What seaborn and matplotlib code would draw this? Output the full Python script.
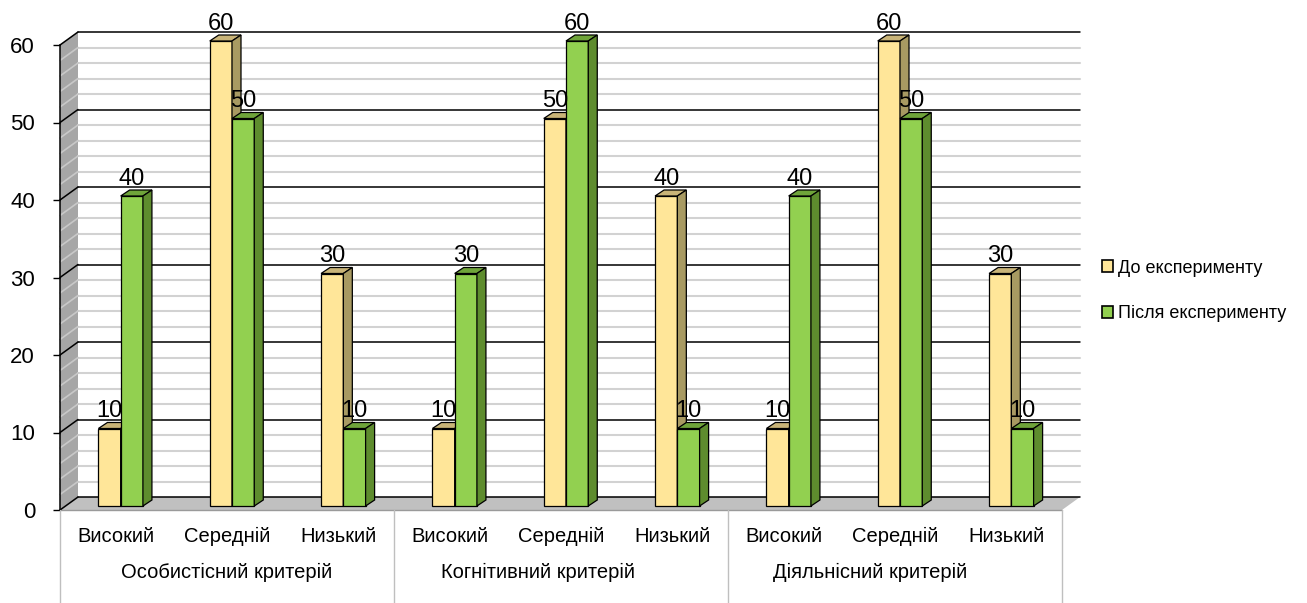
import numpy as np
import pandas as pd
import matplotlib
matplotlib.use('Agg')
import matplotlib.pyplot as plt
import matplotlib.transforms as mtransforms
from matplotlib.patches import Polygon, Patch
import seaborn as sns

# data
groups = ['Особистісний критерій', 'Когнітивний критерій', 'Діяльнісний критерій']
levels = ['Високий', 'Середній', 'Низький']
series = ['До експерименту', 'Після експерименту']
before = [10, 60, 30, 10, 50, 40, 10, 60, 30]
after = [40, 50, 10, 30, 60, 10, 40, 50, 10]

keys = [g + '|' + l for g in groups for l in levels]
df = pd.DataFrame({
    'key': keys * 2,
    'value': before + after,
    'series': [series[0]] * len(keys) + [series[1]] * len(keys),
})

yellow, green = '#FFE699', '#92D050'
side_cols = ['#A89A62', '#5E8C2E']
top_cols = ['#C9B478', '#6FA43A']

sns.set_style('white')
plt.rcParams['font.family'] = ['Liberation Sans', 'DejaVu Sans']
plt.rcParams['text.color'] = 'black'
plt.rcParams['xtick.color'] = 'black'
plt.rcParams['ytick.color'] = 'black'

W, H = 1307, 603
fig = plt.figure(figsize=(W / 100, H / 100), dpi=100)
fig.patch.set_facecolor('white')
ax_w, ax_h = 1002, 465
ax = fig.add_axes([60 / W, 93 / H, ax_w / W, ax_h / H])

sns.barplot(data=df, x='key', y='value', hue='series', order=keys, hue_order=series,
            palette=[yellow, green], saturation=1, width=0.4, gap=0, edgecolor='black',
            linewidth=0.9, errorbar=None, legend=False, ax=ax)
ax.set_xlim(-0.5, 8.5)
ax.set_ylim(0, 60)

# 3D-ish walls (depth offset in pixels)
wdx, wdy = 18 / ax_w, 13 / ax_h
side = Polygon([(0, 0), (0, 1), (wdx, 1 + wdy), (wdx, wdy)], closed=True,
               facecolor='#a6a6a6', edgecolor='none', transform=ax.transAxes,
               clip_on=False, zorder=0.3)
floor = Polygon([(0, 0), (wdx, wdy), (1 + wdx, wdy), (1, 0)], closed=True,
                facecolor='#c0c0c0', edgecolor='none', transform=ax.transAxes,
                clip_on=False, zorder=0.3)
ax.add_patch(side)
ax.add_patch(floor)
ax.plot([0, 1], [0, 0], color='#9a9a9a', lw=1, transform=ax.transAxes, clip_on=False, zorder=0.4)

for v in np.arange(0, 61, 2):
    yf = v / 60
    major = v % 10 == 0
    ax.plot([wdx, 1 + wdx], [yf + wdy, yf + wdy],
            color='black' if major else '#d2d2d2', lw=1.1 if major else 1.5,
            transform=ax.transAxes, clip_on=False, zorder=0.5 if major else 0.4)
    ax.plot([0, wdx], [yf, yf + wdy],
            color='black' if major else '#c8c8c8', lw=1.1 if major else 1.2,
            transform=ax.transAxes, clip_on=False, zorder=0.5 if major else 0.4)

# bars: shift front faces slightly and add top/side faces
px_x = ax_w / 9
px_y = ax_h / 60
shift = ax.transData + mtransforms.ScaledTranslation(5 / 100, 4 / 100, fig.dpi_scale_trans)
ddx, ddy = 9 / px_x, 6 / px_y
for si, cont in enumerate(ax.containers):
    for bar in cont:
        bar.set_transform(shift)
        bar.set_clip_on(False)
        z = 2 + si
        bar.set_zorder(z)
        x0, w, h = bar.get_x(), bar.get_width(), bar.get_height()
        top = Polygon([(x0, h), (x0 + w, h), (x0 + w + ddx, h + ddy), (x0 + ddx, h + ddy)],
                      closed=True, facecolor=top_cols[si], edgecolor='black', lw=0.9,
                      transform=shift, clip_on=False, zorder=z)
        sd = Polygon([(x0 + w, 0), (x0 + w, h), (x0 + w + ddx, h + ddy), (x0 + w + ddx, ddy)],
                     closed=True, facecolor=side_cols[si], edgecolor='black', lw=0.9,
                     transform=shift, clip_on=False, zorder=z)
        ax.add_patch(top)
        ax.add_patch(sd)
        ax.annotate(f'{h:.0f}', (x0 + w / 2, h), xycoords=shift, xytext=(0, 8),
                    textcoords='offset points', ha='center', va='baseline',
                    fontsize=17, zorder=6)

# axes styling
for s in ['top', 'right', 'bottom']:
    ax.spines[s].set_visible(False)
ax.spines['left'].set_color('black')
ax.spines['left'].set_linewidth(1.1)
ax.spines['left'].set_zorder(0.6)
ax.set_yticks(np.arange(0, 61, 10))
ax.tick_params(axis='y', left=True, length=5, width=1, color='black', pad=13, labelsize=16)
ax.set_xticks(range(9))
ax.set_xticklabels(levels * 3)
ax.tick_params(axis='x', length=0, pad=12, labelsize=14.5)
ax.set_xlabel('')
ax.set_ylabel('')
ax.patch.set_alpha(0)

# category separators and group labels
blend = mtransforms.blended_transform_factory(ax.transData, ax.transAxes)
for xs in [-0.5, 2.5, 5.5, 8.5]:
    ax.plot([xs, xs], [0, -93 / ax_h], color='#bfbfbf', lw=1, transform=blend, clip_on=False)
group_x = [1.0, 3.79, 6.78]
for gx, g in zip(group_x, groups):
    ax.text(gx, -62 / ax_h, g, transform=blend, ha='center', va='center', fontsize=14.5)

handles = [Patch(facecolor=yellow, edgecolor='black', lw=1.2),
           Patch(facecolor=green, edgecolor='black', lw=1.2)]
fig.legend(handles=handles, labels=series, loc='center left',
           bbox_to_anchor=(1086 / W, 1 - 291 / H), frameon=False, fontsize=13,
           handlelength=0.6, handleheight=0.6, handletextpad=0.25, labelspacing=1.6)

fig.savefig('out.png', dpi=100, facecolor='white')
